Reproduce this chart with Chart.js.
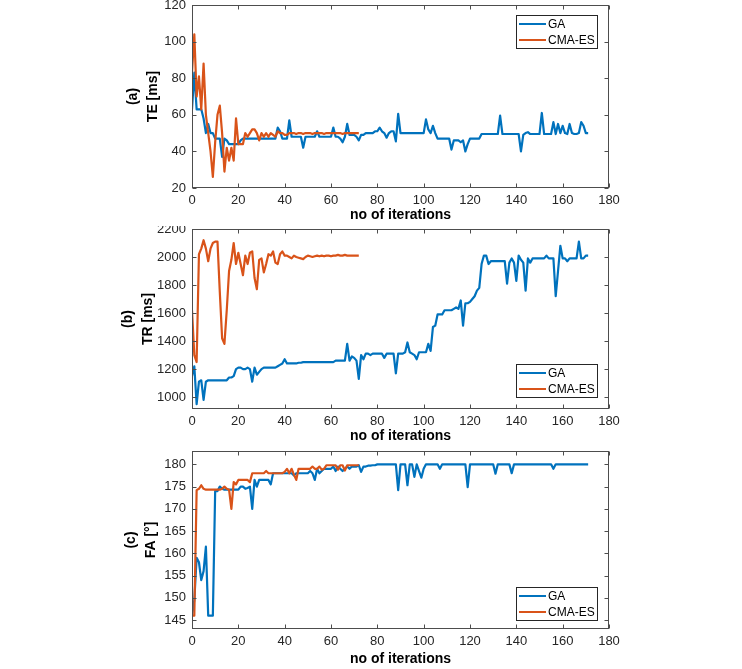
<!DOCTYPE html>
<html><head><meta charset="utf-8">
<script src="https://cdn.jsdelivr.net/npm/chart.js@4/dist/chart.umd.min.js"></script>
<style>
html,body{margin:0;padding:0;background:#fff;}
body{width:742px;height:669px;position:relative;overflow:hidden;}
canvas{position:absolute;left:0;}
</style></head><body>
<canvas id="cA"></canvas><canvas id="cB"></canvas><canvas id="cC"></canvas>
<script>
// ---------------- data ----------------
const xTicks  = [0,20,40,60,80,100,120,140,160,180];
const teTicks = [20,40,60,80,100,120];
const trTicks = [1000,1200,1400,1600,1800,2000,2200];
const faTicks = [145,150,155,160,165,170,175,180];
const seriesNames = ['GA','CMA-ES'];
const xTitle = 'no of iterations';

const gaTE = [63,83,63,63,63,58,50,55,50,50,47,47,47,37,47,46,44,44,44,44,
44,46,47,47,47,47,47,47,47,47,47,47,47,47,47,47,47,53,51,47,
47,47,57,48,48,48,48,48,42,48,48,48,48,48,51,48,48,48,48,48,
48,53,48,48,47,45,48,55,49,49,49,48,46,49,49,50,50,50,50,51,
51,53,51,50,47.5,50,51,51,45.5,60.5,50,50,50,50,50,50,50,50,50,50,
50,57.5,52,50,54,50,47,47,47,47,47,47,41,46,46,46,45,46,40,44,
47,47,47,47,47,49.5,49.5,49.5,49.5,49.5,49.5,49.5,49.5,59.5,49.5,49.5,49.5,49.5,49.5,49.5,
49.5,49.5,40,49,50,50.5,49.5,49.5,49.5,49.5,49.5,61,49.5,49.5,49.5,49.5,56,49.5,55,50,
54,50,49.5,55,50,49.5,49.5,50,56,54,50,50];
const cmaTE = [83,104,70,81,63,88,60,50,40,26,45,60,65,50,29,42,35,42,35,58,
44,44,44,50,48,50,52,52,50,46,50,48,50,48,50,49,48,51,50,50,
49,49,50,50,50,49.5,50,50,49.5,50,50,50,49.5,50,50,50,50,49.5,50,50,
50,50,50,50,50,49.5,50,50,50,50,50,50,50];

const gaTR = [1150,1220,950,1110,1120,980,1110,1120,1120,1120,1120,1120,1120,1120,1120,1120,1140,1140,1150,1200,
1210,1210,1200,1200,1210,1200,1110,1210,1160,1180,1200,1210,1210,1210,1210,1210,1210,1220,1230,1240,
1270,1240,1240,1240,1240,1240,1245,1245,1250,1250,1250,1250,1250,1250,1250,1250,1250,1250,1250,1250,
1250,1250,1260,1260,1260,1260,1260,1380,1260,1290,1280,1260,1130,1300,1270,1310,1310,1300,1310,1310,
1310,1310,1310,1280,1310,1310,1310,1310,1170,1310,1310,1310,1320,1390,1320,1310,1300,1270,1320,1320,
1320,1320,1380,1330,1500,1510,1590,1590,1590,1620,1620,1620,1620,1630,1640,1630,1690,1510,1670,1670,
1680,1700,1720,1760,1780,1950,2010,2010,1950,1970,1970,1970,1970,1970,1970,1970,1810,1960,1990,1960,
1830,2010,1980,1960,1760,1990,1960,1990,1990,1990,1990,1990,1990,2010,1990,1990,1990,1720,1900,2080,
1990,1990,1970,1990,1990,1990,1990,2110,1990,1990,2010,2010];
const cmaTR = [1620,1300,1250,2020,2060,2120,2060,1970,2060,2100,2110,2110,1750,1420,1380,1620,1900,1980,2100,1950,
2030,1950,1870,2010,1950,2030,2040,1850,1770,1980,1990,1890,1950,2020,2010,2040,1960,1950,2020,2040,
2010,2010,2000,1990,2010,2000,1995,1990,1985,2000,2010,2005,2000,2005,2010,2005,2010,2005,2010,2010,
2005,2010,2010,2015,2010,2010,2015,2010,2010,2010,2010,2010,2010];

const gaFA = [146,149.5,159,158,154,156,161.5,146,146,146,174,174,175,174.5,174.3,174.3,174.3,174.3,174.3,174.3,
174.3,175,175,174.5,174.7,175,170,176.5,175,176.5,176.5,176.5,176.5,176.5,175.5,178,178,178,178,178,
178,178,178,178,177.5,178,178,178,178,178,178,178.5,178,176.5,179,178,178.5,179,179,179,
179,179.5,178.5,179.5,179,178.5,179,179.5,179,179.5,179.5,179.5,179.8,178.3,179.5,179.5,179.7,179.7,179.8,179.8,
180,180,180,180,180,180,180,180,180,174.2,180,180,180,175.3,180,180,177.2,180,178.5,177,
179,180,180,180,180,180,180,179,180,180,180,180,180,180,180,180,180,180,180,174.9,
180,180,180,180,180,180,180,180,180,180,180,177.9,180,180,180,180,180,180,178,180,
180,180,180,180,180,180,180,180,180,180,180,180,180,180,180,180,179,180,180,180,
180,180,180,180,180,180,180,180,180,180,180,180];
const cmaFA = [146,146,174.2,174.5,175.3,174.5,174.3,174.3,174.3,174.3,174.3,174.3,174.3,174.5,175,174.5,174.3,170,176,175.5,
176.5,176.5,176.5,176.5,176.5,176,178,178,178,178,178,178,178.5,178,178,178,178,178,178,178,
178.3,179,178,179,177.7,176.5,179,179,179,179,179,179,179.5,179,179,179.5,178.8,179,179.8,179.8,
179.8,179.8,179.8,178.8,179.8,179.8,178.6,179.8,179.8,179.8,179.8,179.8,179.8];

// ---------------- styling / layout ----------------
const GA_COLOR = '#0072BD', CMA_COLOR = '#D95319';
const FONT = "'Liberation Sans', Arial, Helvetica, sans-serif";
const PLOT_LEFT = 192, PLOT_RIGHT = 609, W = 742;

const panels = [
  {id:'cA', top:0,   h:226, plotTop:5,   plotBottom:188, titleY:215, padL:123, yMin:20,  yMax:120,  yTicks:teTicks, yTitle:['(a)','TE [ms]'], ga:gaTE, cma:cmaTE, legend:{where:'top', gap:10}},
  {id:'cB', top:226, h:220, plotTop:229, plotBottom:409, titleY:436, padL:118, yMin:915, yMax:2200, yTicks:trTicks, yTitle:['(b)','TR [ms]'], ga:gaTR, cma:cmaTR, legend:{where:'bottom', gap:12}},
  {id:'cC', top:446, h:223, plotTop:451, plotBottom:629, titleY:659, padL:121, yMin:143, yMax:183,  yTicks:faTicks, yTitle:['(c)','FA [°]'],  ga:gaFA, cma:cmaFA, legend:{where:'bottom', gap:9}}
];

const framePlugin = {
  id: 'frame',
  afterDatasetsDraw(chart) {
    const {ctx, chartArea: a, scales} = chart;
    const L = Math.round(a.left)+0.5, R = Math.round(a.right)-0.5, T = Math.round(a.top)+0.5, B = Math.round(a.bottom)-0.5;
    ctx.save();
    ctx.strokeStyle = '#4d4d4d'; ctx.lineWidth = 1;
    ctx.strokeRect(L, T, R-L, B-T);
    const tl = 4;
    ctx.beginPath();
    scales.x.ticks.forEach(t => {
      const px = Math.round(scales.x.getPixelForValue(t.value)) + 0.5;
      ctx.moveTo(px, B); ctx.lineTo(px, B - tl);
      ctx.moveTo(px, T); ctx.lineTo(px, T + tl);
    });
    scales.y.ticks.forEach(t => {
      const py = Math.round(scales.y.getPixelForValue(t.value)) + 0.5;
      ctx.moveTo(L, py); ctx.lineTo(L + tl, py);
      ctx.moveTo(R, py); ctx.lineTo(R - tl, py);
    });
    ctx.stroke();
    ctx.restore();
  }
};

const legendPlugin = {
  id: 'boxLegend',
  afterDraw(chart, args, opts) {
    const {ctx, chartArea: a} = chart;
    const w = 81, h = 33;
    const x = Math.round(a.right - 12 - w);
    const y = Math.round(opts.where === 'top' ? a.top + opts.gap : a.bottom - opts.gap - h);
    ctx.save();
    ctx.fillStyle = '#fff'; ctx.fillRect(x, y, w, h);
    ctx.strokeStyle = '#262626'; ctx.lineWidth = 1; ctx.strokeRect(x+0.5, y+0.5, w, h);
    ctx.font = '12px ' + FONT; ctx.textBaseline = 'middle'; ctx.textAlign = 'left';
    chart.data.datasets.forEach((ds, i) => {
      const ly = y + 9 + i * 16;
      ctx.strokeStyle = ds.borderColor; ctx.lineWidth = 2;
      ctx.beginPath(); ctx.moveTo(x + 3, ly); ctx.lineTo(x + 30, ly); ctx.stroke();
      ctx.fillStyle = '#000'; ctx.fillText(ds.label, x + 32, ly + 0.5);
    });
    ctx.restore();
  }
};

const toPts = arr => arr.map((v, i) => ({x: i, y: v}));
const plain = v => String(v);

panels.forEach(p => {
  const cv = document.getElementById(p.id);
  cv.width = W; cv.height = p.h; cv.style.top = p.top + 'px';
  const xTitleH = 14 * 1.2;
  const xAxisH = (p.titleY - p.plotBottom) + xTitleH / 2;
  new Chart(cv, {
    type: 'line',
    data: {datasets: [
      {label: seriesNames[0], data: toPts(p.ga), borderColor: GA_COLOR, order: 2},
      {label: seriesNames[1], data: toPts(p.cma), borderColor: CMA_COLOR, order: 1}
    ]},
    options: {
      responsive: false, animation: false, devicePixelRatio: 1,
      elements: {point: {radius: 0}, line: {borderWidth: 2.2, tension: 0, borderJoinStyle: 'round', fill: false}},
      layout: {padding: {left: p.padL, right: W - PLOT_RIGHT, top: p.plotTop - p.top, bottom: p.top + p.h - p.plotBottom - xAxisH}},
      plugins: {legend: {display: false}, tooltip: {enabled: false}, boxLegend: p.legend},
      scales: {
        x: {
          type: 'linear', min: 0, max: 180,
          afterBuildTicks: s => { s.ticks = xTicks.map(v => ({value: v})); },
          afterFit: s => { s.height = xAxisH; s.paddingLeft = 0; s.paddingRight = 0; },
          grid: {display: false, drawTicks: false, tickLength: 0}, border: {display: false},
          ticks: {font: {family: FONT, size: 13}, color: '#262626', padding: 5, maxRotation: 0, autoSkip: false, callback: plain},
          title: {display: true, text: xTitle, font: {family: FONT, size: 14, weight: 'bold'}, color: '#000', padding: 0}
        },
        y: {
          type: 'linear', min: p.yMin, max: p.yMax,
          afterBuildTicks: s => { s.ticks = p.yTicks.map(v => ({value: v})); },
          afterFit: s => { s.width = PLOT_LEFT - p.padL; s.paddingTop = 0; s.paddingBottom = 0; },
          grid: {display: false, drawTicks: false, tickLength: 0}, border: {display: false},
          ticks: {font: {family: FONT, size: 13}, color: '#262626', padding: 6, autoSkip: false, callback: plain},
          title: {display: true, text: p.yTitle, font: {family: FONT, size: 14, weight: 'bold', lineHeight: 20/14}, color: '#000', padding: 0}
        }
      }
    },
    plugins: [framePlugin, legendPlugin]
  });
});
</script>
</body></html>
